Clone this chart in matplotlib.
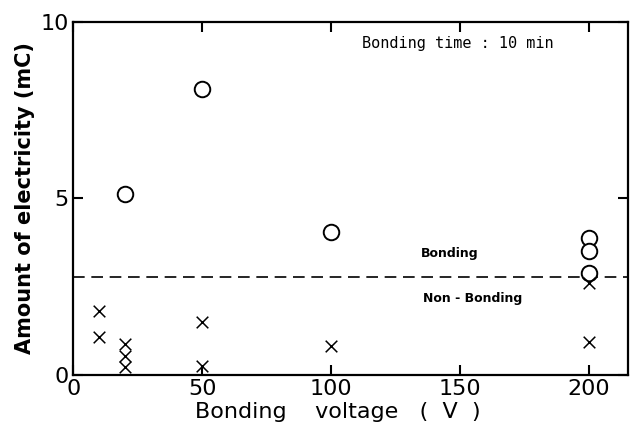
import matplotlib
matplotlib.use("Agg")
import matplotlib.pyplot as plt

# Bonding (circles) and non-bonding (crosses) samples
bond_v = [20, 50, 100, 200, 200, 200]
bond_q = [5.12, 8.1, 4.06, 3.88, 3.52, 2.9]
nonbond_v = [10, 10, 20, 20, 20, 50, 50, 100, 200, 200]
nonbond_q = [1.8, 1.07, 0.88, 0.54, 0.23, 1.5, 0.25, 0.82, 2.6, 0.94]
threshold = 2.78

fig = plt.figure(figsize=(6.36, 4.28), dpi=100)
ax = fig.add_axes([0.115, 0.124, 0.872, 0.825])

ax.scatter(bond_v, bond_q, marker="o", s=125, facecolors="white",
           edgecolors="black", linewidths=1.4, zorder=3)
ax.scatter(nonbond_v, nonbond_q, marker="x", s=70, color="black",
           linewidths=1.1, zorder=3)
ax.axhline(threshold, color="black", ls=(0, (7, 4)), lw=1.2, zorder=2)

ax.set_xlim(0, 215)
ax.set_ylim(0, 10)
ax.set_xticks([0, 50, 100, 150, 200])
ax.set_yticks([0, 5, 10])
ax.tick_params(direction="in", length=7, width=1.5, labelsize=16, pad=3,
               top=True, right=True)
for s in ax.spines.values():
    s.set_linewidth(1.6)

ax.set_ylabel("Amount of electricity (mC)", fontsize=15, fontweight="bold",
              labelpad=4)
ax.set_xlabel("Bonding    voltage   (  V  )", fontsize=16)
ax.xaxis.set_label_coords(0.477, -0.078)

ax.text(0.694, 0.94, "Bonding time : 10 min", transform=ax.transAxes,
        fontsize=11, family="DejaVu Sans Mono", ha="center", va="center")
ax.text(146, 3.44, "Bonding", fontsize=9, fontweight="bold",
        ha="center", va="center")
ax.text(155, 2.16, "Non - Bonding", fontsize=9, fontweight="bold",
        ha="center", va="center")

fig.savefig("out.png", dpi=100)
